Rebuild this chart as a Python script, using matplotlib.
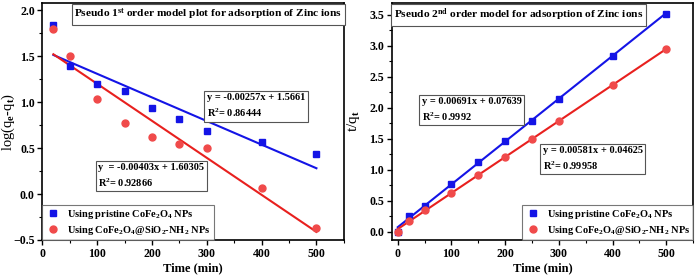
import matplotlib.pyplot as plt
from matplotlib.ticker import MultipleLocator

plt.rcParams['font.family'] = ['Liberation Serif', 'DejaVu Serif']
plt.rcParams['font.weight'] = 'bold'
plt.rcParams['mathtext.fontset'] = 'custom'
plt.rcParams['mathtext.rm'] = 'Liberation Serif:bold'
plt.rcParams['mathtext.it'] = 'Liberation Serif:bold'
plt.rcParams['mathtext.bf'] = 'Liberation Serif:bold'

# pseudo 1st order data
t1 = [20, 50, 100, 150, 200, 250, 300, 400, 500]
log_pristine = [1.84, 1.40, 1.20, 1.12, 0.94, 0.82, 0.69, 0.57, 0.44]
log_amine = [1.80, 1.50, 1.03, 0.77, 0.62, 0.55, 0.50, 0.07, -0.37]
fit1_pristine = (-0.00257, 1.5661)
fit1_amine = (-0.00403, 1.60305)

# pseudo 2nd order data
t2 = [0, 20, 50, 100, 150, 200, 250, 300, 400, 500]
tq_pristine = [0.0, 0.26, 0.42, 0.77, 1.13, 1.47, 1.79, 2.14, 2.83, 3.52]
tq_amine = [0.0, 0.18, 0.35, 0.63, 0.91, 1.21, 1.50, 1.79, 2.37, 2.95]
fit2_pristine = (0.00691, 0.07639)
fit2_amine = (0.00581, 0.04625)

lab_pristine = r'Using pristine CoFe$_2$O$_4$ NPs'
lab_amine = r'Using CoFe$_2$O$_4$@SiO$_2$-NH$_2$ NPs'

blue = '#1414e6'
red_pt = '#f04a4a'
red_line = '#e8201e'

fig = plt.figure(figsize=(6.96, 2.8), dpi=100)
ax1 = fig.add_axes([0.061, 0.143, 0.433, 0.846])
ax2 = fig.add_axes([0.563, 0.143, 0.433, 0.846])

box = dict(boxstyle='square,pad=0.25', fc='white', ec='#555555', lw=0.8)


def style(ax):
    ax.xaxis.set_major_locator(MultipleLocator(100))
    ax.xaxis.set_minor_locator(MultipleLocator(50))
    ax.yaxis.set_major_locator(MultipleLocator(0.5))
    ax.yaxis.set_minor_locator(MultipleLocator(0.25))
    ax.tick_params(which='major', direction='out', length=3.5, width=1, labelsize=8.6, pad=2)
    ax.tick_params(which='minor', direction='out', length=2, width=0.8)
    for s in ax.spines.values():
        s.set_linewidth(1.2)
    ax.set_xlabel('Time (min)', fontsize=9, fontweight='bold', labelpad=2)


# left panel
xs = [t1[0], t1[-1]]
ax1.plot(xs, [fit1_pristine[0] * x + fit1_pristine[1] for x in xs], color=blue, lw=1.5, zorder=2)
ax1.plot(xs, [fit1_amine[0] * x + fit1_amine[1] for x in xs], color=red_line, lw=1.5, zorder=2)
ax1.plot(t1, log_pristine, 's', color=blue, ms=4.5, label=lab_pristine, zorder=3)
ax1.plot(t1, log_amine, 'o', color=red_pt, ms=5, label=lab_amine, zorder=3)
ax1.set_xlim(0, 550)
ax1.set_ylim(-0.5, 2.08)
style(ax1)
ax1.set_ylabel(r'log(q$_e$-q$_t$)', fontsize=10.5)
ax1.yaxis.set_label_coords(-0.083, 0.5)
ax1.text(0.995, 0.985, r'Pseudo 1$^{st}$ order model plot for adsorption of Zinc ions',
         transform=ax1.transAxes, ha='right', va='top', fontsize=8.2, bbox=box)
ax1.text(0.545, 0.565, 'y = -0.00257x + 1.5661\nR$^2$= 0.86444', transform=ax1.transAxes,
         ha='left', va='center', fontsize=7.5, linespacing=1.4, bbox=box)
ax1.text(0.185, 0.27, 'y  = -0.00403x + 1.60305\nR$^2$= 0.92866', transform=ax1.transAxes,
         ha='left', va='center', fontsize=7.5, linespacing=1.4, bbox=box)
leg = ax1.legend(loc='lower left', fontsize=7.5, frameon=True, fancybox=False,
                 edgecolor='#555555', borderpad=0.3, labelspacing=0.3, handletextpad=0.6,
                 borderaxespad=0.0, handlelength=1.5)
leg.get_frame().set_linewidth(0.8)

# right panel
xs = [t2[0], t2[-1]]
ax2.plot(xs, [fit2_pristine[0] * x + fit2_pristine[1] for x in xs], color=blue, lw=1.5, zorder=2)
ax2.plot(xs, [fit2_amine[0] * x + fit2_amine[1] for x in xs], color=red_line, lw=1.5, zorder=2)
ax2.plot(t2, tq_pristine, 's', color=blue, ms=4.5, label=lab_pristine, zorder=3)
ax2.plot(t2, tq_amine, 'o', color=red_pt, ms=5, label=lab_amine, zorder=3)
ax2.set_xlim(-11, 550)
ax2.set_ylim(-0.13, 3.69)
style(ax2)
ax2.set_ylabel(r't/q$_t$', fontsize=11)
ax2.yaxis.set_label_coords(-0.1, 0.5)
ax2.text(0.008, 0.985, r'Pseudo 2$^{nd}$ order model for adsorption of Zinc ions',
         transform=ax2.transAxes, ha='left', va='top', fontsize=8.2, bbox=box)
ax2.text(0.1, 0.549, 'y = 0.00691x + 0.07639\nR$^2$= 0.9992', transform=ax2.transAxes,
         ha='left', va='center', fontsize=7.5, linespacing=1.4, bbox=box)
ax2.text(0.5, 0.342, 'y = 0.00581x + 0.04625\nR$^2$= 0.99958', transform=ax2.transAxes,
         ha='left', va='center', fontsize=7.5, linespacing=1.4, bbox=box)
leg = ax2.legend(loc='lower right', fontsize=7.5, frameon=True, fancybox=False,
                 edgecolor='#555555', borderpad=0.3, labelspacing=0.3, handletextpad=0.6,
                 borderaxespad=0.0, handlelength=1.5)
leg.get_frame().set_linewidth(0.8)

fig.savefig('out.png', dpi=100)
